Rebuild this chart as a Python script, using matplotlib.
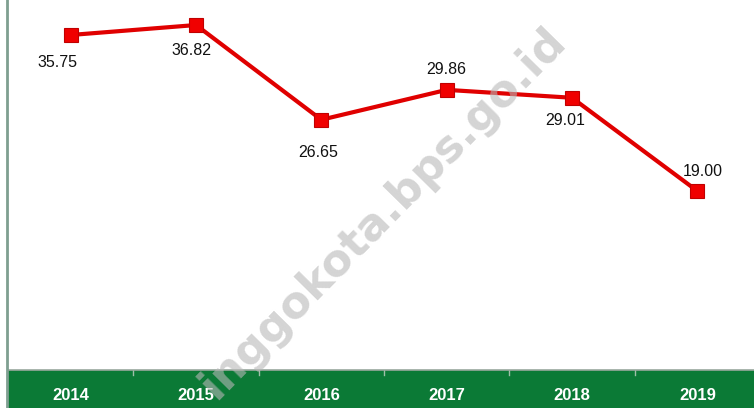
import matplotlib.pyplot as plt

years = ["2014", "2015", "2016", "2017", "2018", "2019"]
values = [35.75, 36.82, 26.65, 29.86, 29.01, 19.00]
labels = ["35.75", "36.82", "26.65", "29.86", "29.01", "19.00"]
# label offsets in pixels (dx, dy)
offsets = [(-13, -28), (-5, -25), (-3, -33), (0, 20), (-7, -23), (5, 20)]

W, H = 754, 408
fig = plt.figure(figsize=(W / 100, H / 100), dpi=100)
fig.patch.set_facecolor("white")

# main plot area
ax = fig.add_axes([8 / W, 40 / H, 752 / W, 368 / H])
x = list(range(len(years)))
ax.plot(x, values, color="#e00000", lw=3, marker="s", ms=9.5,
        markerfacecolor="#f00000", markeredgecolor="#c00000", markeredgewidth=0.8,
        zorder=5)
for i, (v, t) in enumerate(zip(values, labels)):
    ax.annotate(t, (i, v), xytext=offsets[i], textcoords="offset pixels",
                ha="center", va="center", fontsize=11.5, color="#111111",
                family="Liberation Sans", zorder=6)
ax.set_xlim(-0.5, 5.5)
ax.set_ylim(0, 368 / 9.315)
ax.set_xticks([])
ax.set_yticks([])
for s in ax.spines.values():
    s.set_visible(False)
ax.patch.set_alpha(0)

# green category band
band = fig.add_axes([8 / W, 0, 752 / W, 38 / H])
band.set_facecolor("#0b7a36")
band.set_xlim(-0.5, 5.5)
band.set_ylim(0, 1)
band.set_xticks([])
band.set_yticks([])
for s in band.spines.values():
    s.set_visible(False)
for i, yr in enumerate(years):
    band.text(i, 0.32, yr, ha="center", va="center", color="white",
              fontsize=12, fontweight="bold", family="Liberation Sans")
for b in [0.5, 1.5, 2.5, 3.5, 4.5]:
    band.plot([b, b], [0.88, 1.0], color="#9fbfa8", lw=1)

# thin gray line on top of the band and the left axis line
fig.add_artist(plt.Line2D([8 / W, 1], [38.5 / H, 38.5 / H], color="#9aa89e", lw=1.2))
fig.add_artist(plt.Line2D([7 / W, 7 / W], [0, 1], color="#7f9f90", lw=2))

# watermark
fig.text(383 / W, 1 - 213 / H, "inggokota.bps.go.id", rotation=45.5,
         rotation_mode="anchor", ha="center", va="center", fontsize=32,
         fontweight="bold", color="#b8b8b8", alpha=0.6, family="DejaVu Sans",
         zorder=3)

fig.savefig("out.png", dpi=100, facecolor="white")
